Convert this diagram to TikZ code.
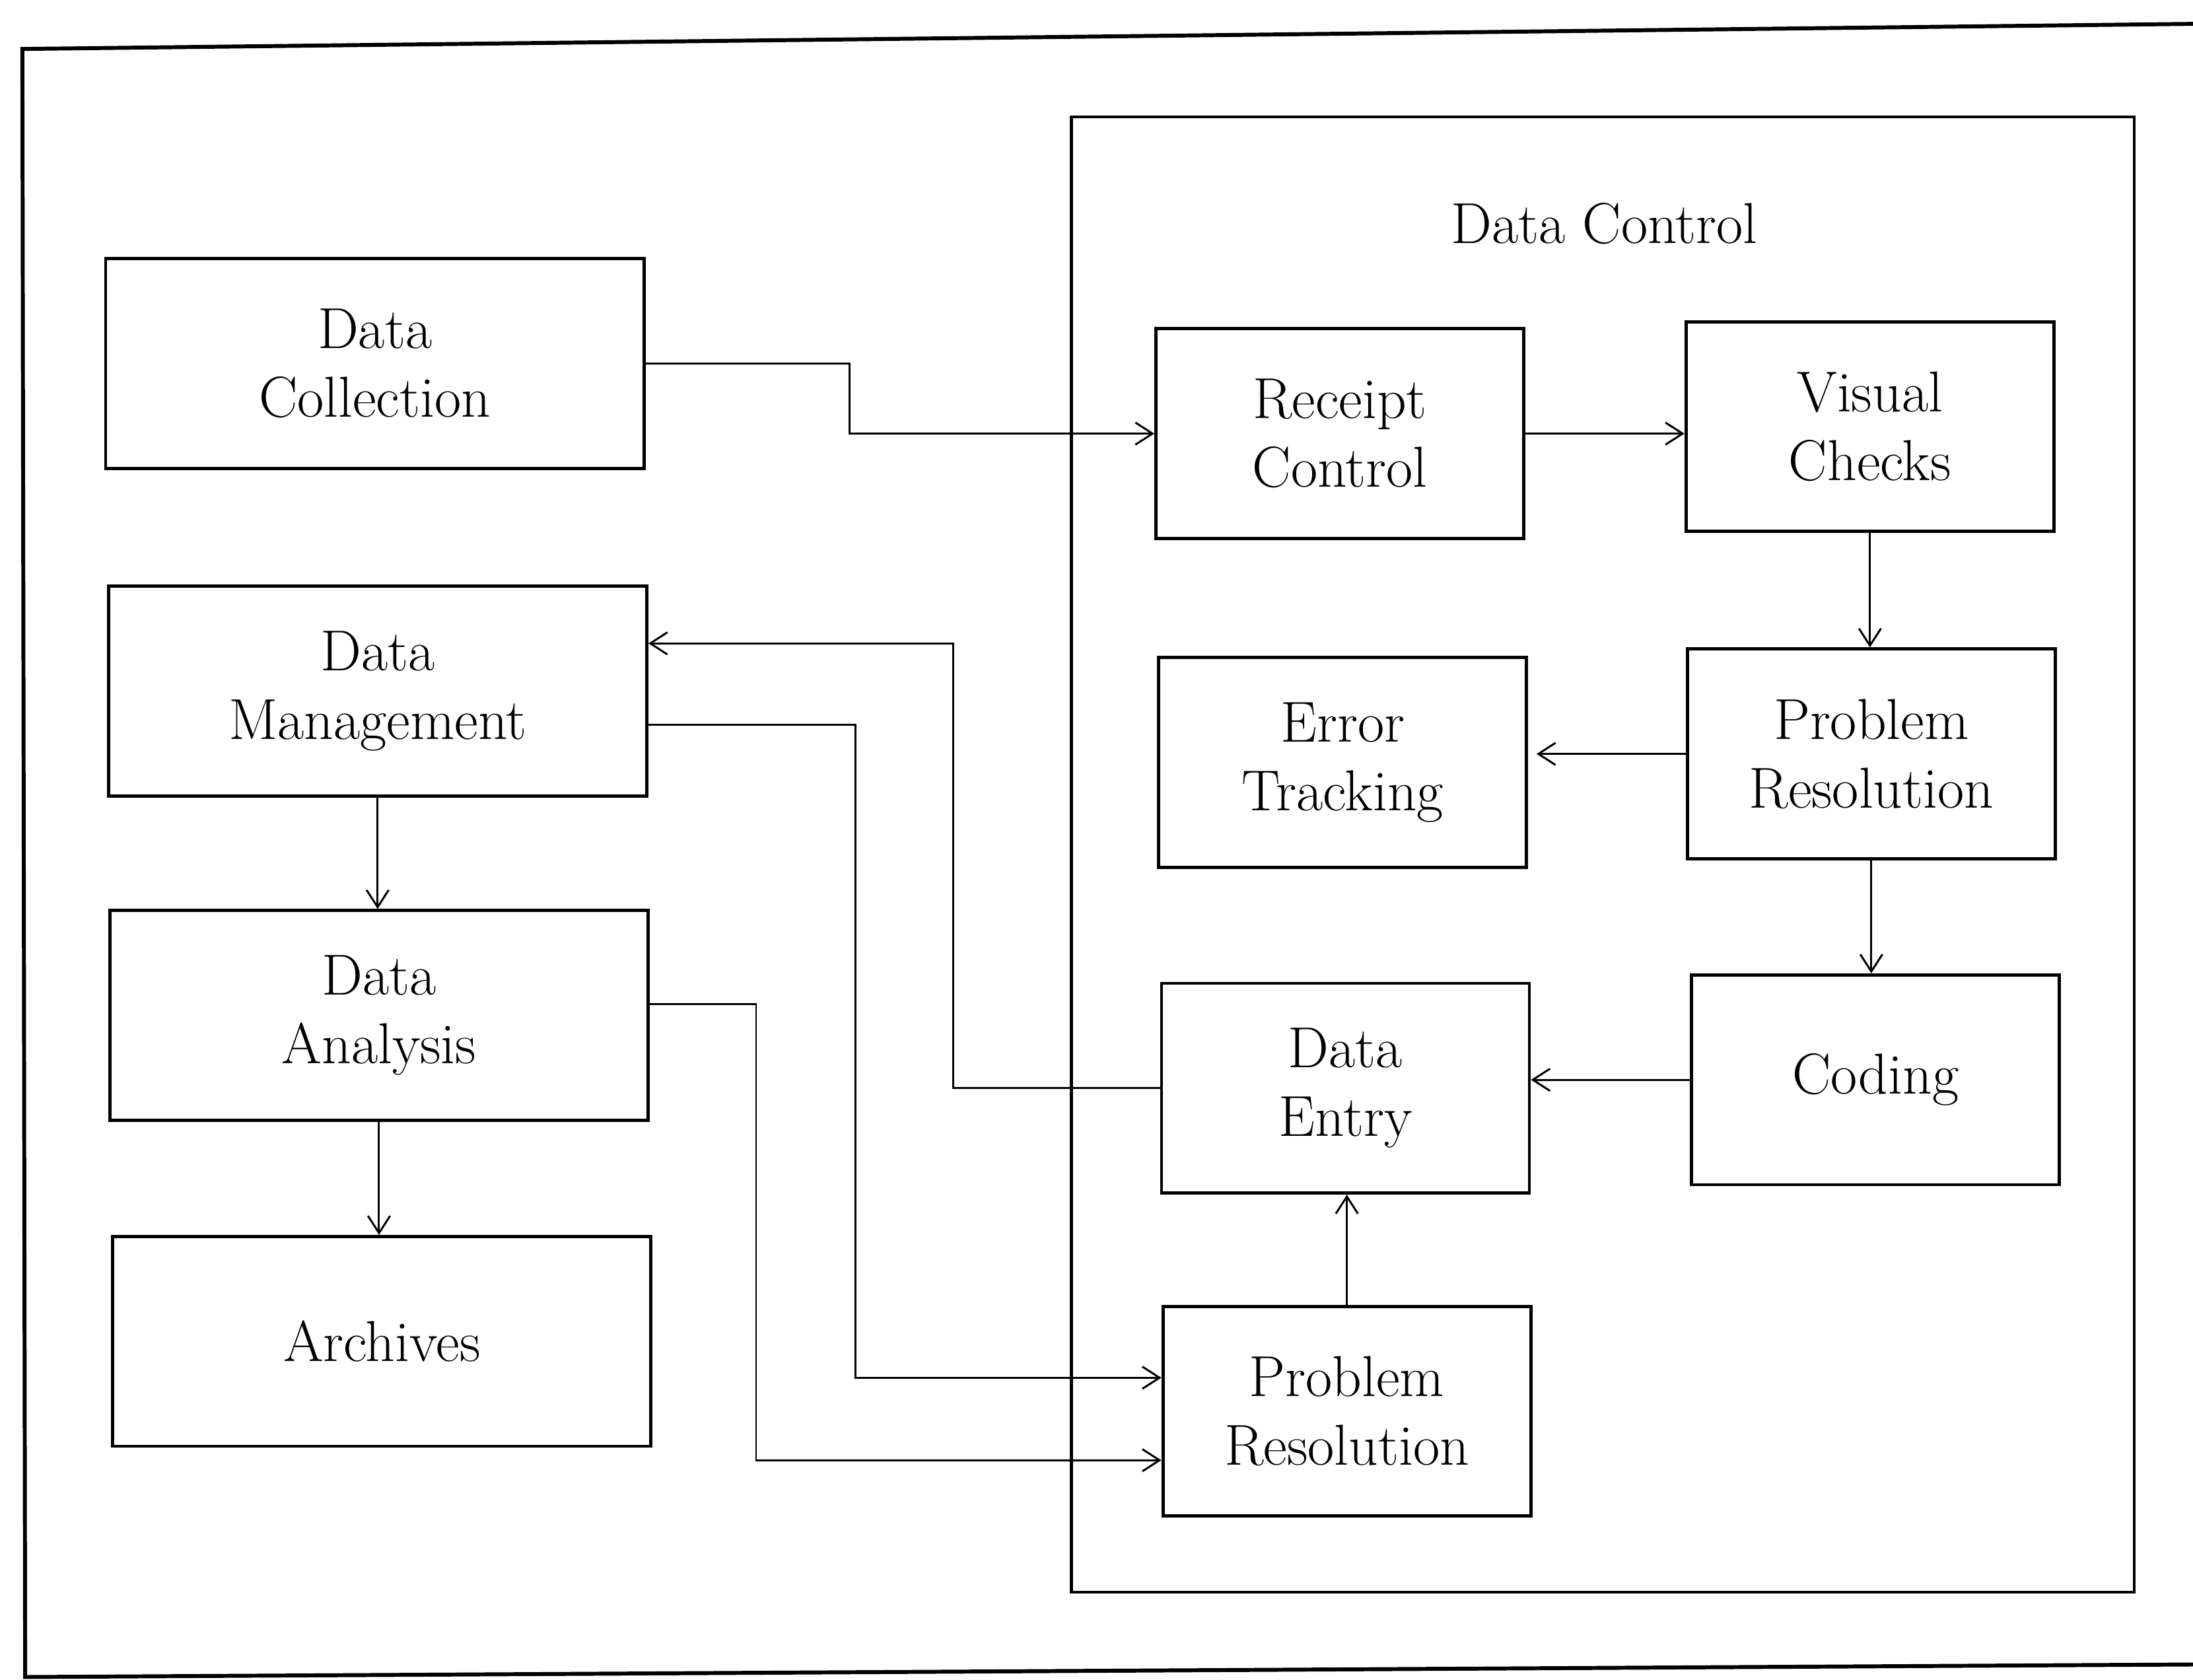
\documentclass[tikz,border=0pt]{standalone}
\usetikzlibrary{arrows.meta,calc}
\begin{document}
\begin{tikzpicture}[x=0.02cm,y=-0.02cm,
  every node/.style={font=\fontsize{23.5}{28}\selectfont},
  lbox/.style={draw,line width=1.3pt,minimum width=7.7cm,minimum height=3.0cm,inner sep=0pt,align=center},
  ibox/.style={draw,line width=1.3pt,minimum width=5.26cm,minimum height=3.0cm,inner sep=0pt,align=center},
  container/.style={draw,line width=1.2pt,minimum width=15.2cm,minimum height=21.1cm,inner sep=0pt},
  arr/.style={line width=0.8pt,-{Straight Barb[length=7pt,width=9pt,line width=0.8pt]}},
  outer/.style={line width=1.6pt}]
\useasboundingbox (0,0) rectangle (1568,1201);
% outer frame (runs off the right edge)
\draw[outer] (1572,17) -- (16,35) -- (18,1199) -- (1572,1190);
% container
\node[container] (ctl) at (1146,611) {};
\node (ctltitle) at (1147,160) {Data Control};
% left column
\node[lbox] (dc) at (268,260) {Data\\Collection};
\node[lbox] (dm) at (270,494) {Data\\Management};
\node[lbox] (da) at (271,726) {Data\\Analysis};
\node[lbox] (ar) at (273,959) {Archives};
% inner boxes
\node[ibox] (rc) at (958,310) {Receipt\\Control};
\node[ibox] (vc) at (1337,305) {Visual\\Checks};
\node[ibox] (et) at (960,545) {Error\\Tracking};
\node[ibox] (prr) at (1338,539) {Problem\\Resolution};
\node[ibox] (de) at (962,778) {Data\\Entry};
\node[ibox] (cod) at (1341,772) {Coding};
\node[ibox] (prb) at (963,1009) {Problem\\Resolution};
% attachment points
\coordinate (dmA) at ($(dm.east)+(0,-34)$);
\coordinate (dmB) at ($(dm.east)+(0,24)$);
\coordinate (daA) at ($(da.east)+(0,-8)$);
\coordinate (prA) at ($(prb.west)+(0,-24)$);
\coordinate (prB) at ($(prb.west)+(0,35)$);
% connectors
\draw[arr] (dc.east) -- ++(146,0) |- (rc.west);
\draw[arr] (rc.east) -- (rc.east -| vc.west);
\draw[arr] (vc.south) -- (vc.south |- prr.north);
\draw[arr] (prr.west) -- ($(prr.west -| et.east)+(6,0)$);
\draw[arr] (prr.south) -- (prr.south |- cod.north);
\draw[arr] (cod.west) -- (cod.west -| de.east);
\draw[arr] (prb.north) -- (prb.north |- de.south);
\draw[arr] (de.west) -- ++(-148,0) |- (dmA);
\draw[arr] (dmB) -- ++(148,0) |- (prA);
\draw[arr] (daA) -- ++(76,0) |- (prB);
\draw[arr] (dm.south) -- (dm.south |- da.north);
\draw[arr] (da.south) -- (da.south |- ar.north);
\end{tikzpicture}
\end{document}
